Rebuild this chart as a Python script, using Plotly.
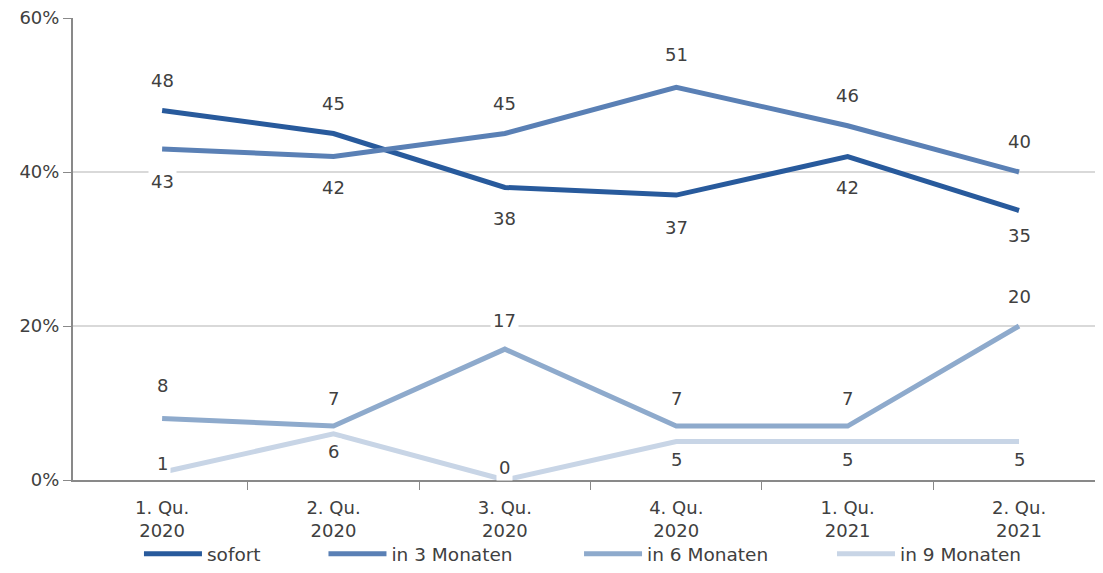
import plotly.graph_objects as go

categories = ["1. Qu.<br>2020", "2. Qu.<br>2020", "3. Qu.<br>2020", "4. Qu.<br>2020", "1. Qu.<br>2021", "2. Qu.<br>2021"]
series_names = ["sofort", "in 3 Monaten", "in 6 Monaten", "in 9 Monaten"]
sofort = [48, 45, 38, 37, 42, 35]
in_3_monaten = [43, 42, 45, 51, 46, 40]
in_6_monaten = [8, 7, 17, 7, 7, 20]
in_9_monaten = [1, 6, 0, 5, 5, 5]
y_ticks = [0, 20, 40, 60]
y_tick_labels = ["0%", "20%", "40%", "60%"]

colors = ["#285A9C", "#5A80B5", "#8EAACC", "#C8D5E6"]
label_shifts = [
    [30, 30, -31, -32, -31, -25],
    [-33, -31, 30, 33, 30, 31],
    [33, 28, 29, 28, 28, 30],
    [9, -18, 13, -18, -18, -18],
]
legend_x = [0.1196, 0.2881, 0.5215, 0.7525]

all_values = [sofort, in_3_monaten, in_6_monaten, in_9_monaten]
n = len(categories)
FONT = "DejaVu Sans, sans-serif"
TXT = "#404040"

fig = go.Figure()
annotations = []
for i, (name, vals) in enumerate(zip(series_names, all_values)):
    fig.add_trace(go.Scatter(
        x=list(range(n)), y=vals, name=name, mode="lines",
        line=dict(color=colors[i], width=5),
        legend="legend" if i == 0 else f"legend{i+1}",
        cliponaxis=False,
    ))
    for j, v in enumerate(vals):
        annotations.append(dict(
            x=j, y=v, xref="x", yref="y", text=str(v), showarrow=False,
            yshift=label_shifts[i][j], bgcolor="white",
            font=dict(family=FONT, size=18, color=TXT),
            borderpad=2,
        ))

legend_common = dict(orientation="h", yref="container", xref="container", y=0.0195,
                     yanchor="middle", xanchor="left", bgcolor="rgba(0,0,0,0)",
                     font=dict(family=FONT, size=18.5, color=TXT),
                     itemwidth=58, borderwidth=0)
layout_legends = {}
for i in range(4):
    key = "legend" if i == 0 else f"legend{i+1}"
    layout_legends[key] = dict(legend_common, x=legend_x[i])

fig.update_layout(
    width=1095, height=557,
    margin=dict(l=65, r=0, t=10, b=85, autoexpand=False),
    plot_bgcolor="white", paper_bgcolor="white",
    showlegend=True,
    annotations=annotations,
    xaxis=dict(
        tickmode="array", tickvals=list(range(n)), ticktext=categories,
        range=[-0.52, 5.49], showgrid=False, showline=True, linecolor="#898989", linewidth=2,
        ticks="", ticklabeloverflow="allow", ticklabelstandoff=10,
        minor=dict(tickmode="array", tickvals=[k + 0.5 for k in range(n - 1)],
                   ticks="outside", ticklen=8, tickcolor="#898989",
                   tickwidth=1, showgrid=False),
        tickfont=dict(family=FONT, size=18, color=TXT), zeroline=False, automargin=False,
    ),
    yaxis=dict(
        range=[0, 60], tickmode="array", tickvals=y_ticks, ticktext=y_tick_labels,
        showgrid=True, gridcolor="#D9D9D9", gridwidth=2,
        showline=True, linecolor="#898989", linewidth=2,
        ticks="outside", ticklen=8, tickcolor="#898989", ticklabeloverflow="allow",
        tickfont=dict(family=FONT, size=18, color=TXT), zeroline=False, automargin=False,
    ),
    **layout_legends,
)
fig.write_html("out.html")
